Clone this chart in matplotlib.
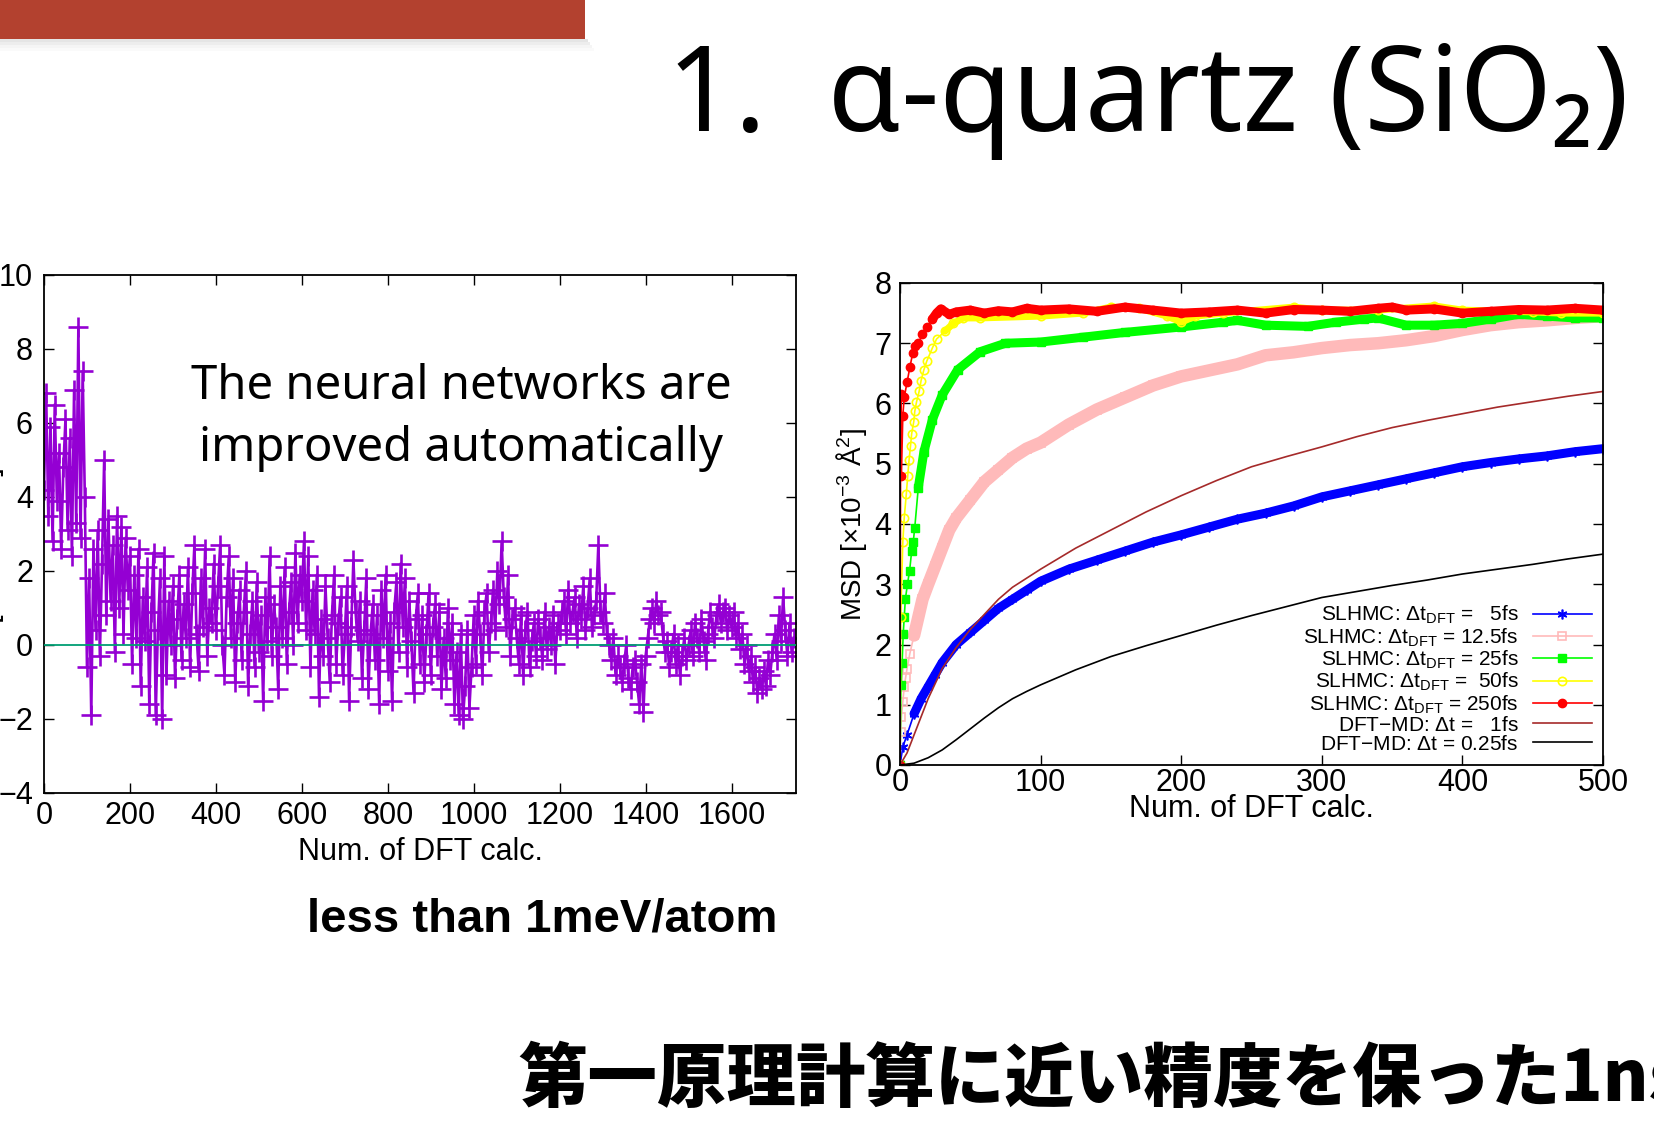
"""
Slide: alpha-quartz SLHMC energy error and MSD comparison.
"""

import numpy as np
import matplotlib
matplotlib.use("Agg")
import matplotlib.pyplot as plt
from matplotlib.lines import Line2D
from matplotlib.patches import Rectangle

W, H = 1654, 1124

# --- left panel: energy error vs number of DFT calcs (sampled every 5 calcs) ---
err_step = 5
err_values = [
    4.2, 6.8, 3.5, 5.9, 2.8, 6.5, 3.9, 5.2, 2.6, 4.8, 6.1, 3.1, 5.6, 2.4, 6.9, 3.3, 8.6, 2.9, 7.4, 4.0,
    -0.6, 1.8, -1.9, 2.6, 0.4, 3.1, -0.3, 2.2, 5.0, 0.8, 3.4, 1.2, 2.7, -0.2, 3.5, 1.0, 3.2, 0.3, 2.9, 1.5,
    2.4, -0.5, 1.9, 0.2, 2.6, -1.1, 1.3, 0.1, 2.1, -1.6, 0.9, 2.5, -1.9, 0.4, 1.8, -2.0, 2.4, -0.8, 1.2, 0.0,
    1.6, -0.9, 0.7, 1.9, -0.4, 1.1, 0.2, 2.1, -0.6, 1.4, 2.7, 0.3, -0.7, 1.8, 0.5, 2.6, -0.3, 1.0, 0.6, 2.2,
    0.4, 1.6, 2.7, 0.0, -0.8, 1.3, 2.4, 0.2, 1.8, -1.0, 0.6, 1.5, -0.4, 0.9, 2.0, -1.1, 0.3, 1.2, -0.6, 1.7,
    -0.2, 0.8, -1.5, 1.3, 0.1, 2.4, -0.3, 1.1, 0.5, -1.2, 1.6, 0.2, 2.1, -0.5, 0.9, 1.7, 0.0, 2.5, 0.6, 1.9,
    1.2, 2.8, 0.4, 2.4, -0.6, 1.5, 0.3, 1.9, -1.4, 0.7, -0.3, 1.6, 0.2, -1.0, 0.8, 1.9, -0.5, 0.6, 1.3, -0.8,
    0.3, 1.6, -1.5, 0.5, 2.3, 0.9, 0.1, 1.2, -0.9, 0.4, 1.8, -1.2, 0.3, 1.1, -0.4, 0.8, -1.6, 1.5, 0.2, 1.9,
    -0.7, 0.6, -1.5, 0.9, 1.7, -0.2, 2.2, 0.5, 1.8, -0.6, 1.2, 0.1, -1.3, 0.7, 1.4, -0.5, 0.8, -1.0, 0.3, 1.4,
    -0.8, 0.5, 1.1, -0.3, 0.9, -1.2, 0.2, -0.9, 1.0, -0.4, 0.6, -1.6, -0.2, -1.9, 0.3, -2.0, -1.1, 0.4, -1.7, -0.6,
    0.8, -0.5, 1.2, 0.3, -0.8, 0.9, 1.4, -0.2, 0.6, 1.5, 0.4, 2.0, 1.1, 2.8, 1.3, 0.5, 1.9, -0.3, 0.7, 1.0,
    0.2, -0.5, 0.8, -0.8, 0.4, 0.9, -0.6, 0.1, 0.6, -0.3, 0.7, 0.2, -0.4, 0.9, -0.1, 0.5, 0.0, 0.8, -0.5, 0.6,
    0.4, 0.9, 1.2, 0.3, 1.5, 0.6, 0.9, 1.3, 0.2, 1.1, 0.7, 1.6, 0.4, 1.0, 1.8, 0.5, 0.8, 1.2, 2.7, 0.9,
    0.6, 1.4, 0.3, 0.0, -0.4, 0.2, -0.8, -0.3, -0.6, -1.0, -0.5, 0.0, -0.9, -1.2, -0.6, -0.4, -1.0, -1.6, -0.5, -1.8,
    -0.3, 0.2, 0.7, 1.0, 0.6, 1.2, 0.8, 0.9, 0.3, -0.2, 0.1, -0.6, -0.2, 0.3, -0.5, 0.0, -0.8, -0.3, 0.2, -0.4,
    0.0, 0.4, -0.3, 0.6, 0.2, -0.2, 0.7, 0.1, -0.4, 0.3, 0.9, 0.5, 0.2, 0.8, 1.1, 0.6, 0.9, 1.0, 0.4, 0.8,
    0.5, 0.9, 0.2, 0.6, -0.1, 0.3, -0.5, 0.0, -0.7, -0.3, -1.0, -0.6, -1.3, -0.9, -1.2, -0.7, -1.1, -0.4, -0.8, -0.2,
    0.3, -0.4, 0.8, 0.1, 1.3, 0.4, -0.3, 0.6, -0.2, 0.2,
]
err_calc = np.arange(len(err_values)) * err_step

# --- right panel: MSD vs number of DFT calcs ---
blue_x = [0, 2, 5, 10, 15, 20, 25, 30, 40, 50, 60, 70, 80, 90, 100, 120, 140, 160, 180, 200,
          220, 240, 260, 280, 300, 320, 340, 360, 380, 400, 420, 440, 460, 480, 500]
blue_y = [0, 0.3, 0.5, 0.85, 1.1, 1.3, 1.5, 1.7, 2.0, 2.2, 2.4, 2.6, 2.75, 2.9, 3.05, 3.25, 3.4, 3.55, 3.7, 3.82,
          3.95, 4.08, 4.18, 4.3, 4.45, 4.55, 4.65, 4.75, 4.85, 4.95, 5.02, 5.08, 5.13, 5.2, 5.25]

pink_x = [0, 0.5, 1, 2, 3, 4, 5, 7, 10, 13, 16, 20, 25, 30, 35, 40, 50, 60, 70, 80, 90, 100,
          120, 140, 160, 180, 200, 220, 240, 260, 280, 300, 320, 340, 360, 380, 400, 420, 440, 460, 480, 500]
pink_y = [0, 0.55, 0.8, 1.05, 1.3, 1.45, 1.6, 1.85, 2.15, 2.45, 2.75, 3.0, 3.3, 3.6, 3.9, 4.1, 4.4, 4.7, 4.9, 5.1, 5.25, 5.35,
          5.65, 5.9, 6.1, 6.3, 6.45, 6.55, 6.65, 6.8, 6.85, 6.92, 6.97, 7.0, 7.05, 7.12, 7.22, 7.3, 7.35, 7.38, 7.42, 7.45]

green_x = [0, 0.7, 1.5, 2.3, 3, 3.8, 5.3, 6.8, 8.3, 9.4, 10.5, 13, 17, 23, 30, 41, 57, 75, 100,
           130, 160, 200, 230, 240, 260, 290, 310, 330, 340, 360, 380, 400, 420, 440, 460, 480, 500]
green_y = [0, 1.32, 1.7, 2.18, 2.45, 2.75, 3.0, 3.22, 3.55, 3.7, 3.94, 4.6, 5.2, 5.73, 6.14, 6.56, 6.86, 7.0, 7.02,
           7.1, 7.18, 7.27, 7.35, 7.38, 7.3, 7.28, 7.35, 7.4, 7.42, 7.3, 7.3, 7.33, 7.4, 7.48, 7.45, 7.42, 7.42]

yellow_x = [0, 0.5, 2, 3, 4.5, 5.5, 6.5, 7.5, 8.3, 9.8, 10.5, 11.7, 13.6, 15, 17, 19, 23, 26, 32, 38, 45, 57,
            100, 130, 150, 170, 190, 200, 210, 230, 280, 300, 340, 380, 400, 450, 470, 500]
yellow_y = [0, 2.45, 3.7, 4.1, 4.5, 4.8, 5.07, 5.3, 5.5, 5.7, 5.87, 6.02, 6.2, 6.38, 6.56, 6.7, 6.92, 7.07, 7.2, 7.33, 7.42, 7.42,
            7.45, 7.5, 7.6, 7.58, 7.45, 7.35, 7.45, 7.5, 7.6, 7.55, 7.55, 7.62, 7.55, 7.52, 7.5, 7.5]

red_x = [0, 0.5, 1, 2, 3, 5, 7, 9, 11, 13, 16, 19, 23, 26, 29, 35, 40, 50, 60, 70, 80, 90, 100,
         120, 140, 160, 180, 200, 220, 240, 260, 280, 300, 320, 340, 350, 360, 380, 400, 420, 440, 460, 480, 500]
red_y = [0, 6.15, 4.8, 5.8, 6.1, 6.35, 6.6, 6.83, 6.95, 7.0, 7.15, 7.27, 7.4, 7.5, 7.57, 7.48, 7.52, 7.55, 7.5, 7.54, 7.52, 7.58, 7.55,
         7.57, 7.53, 7.6, 7.55, 7.5, 7.52, 7.55, 7.5, 7.56, 7.55, 7.53, 7.58, 7.6, 7.55, 7.57, 7.5, 7.53, 7.56, 7.55, 7.58, 7.55]

brown_x = [0, 5, 10, 15, 20, 25, 30, 40, 50, 60, 70, 80, 90, 100, 125, 150, 175, 200, 225, 250,
           275, 300, 325, 350, 375, 400, 425, 450, 475, 500]
brown_y = [0, 0.2, 0.5, 0.8, 1.1, 1.35, 1.6, 1.95, 2.25, 2.5, 2.75, 2.95, 3.1, 3.25, 3.6, 3.9, 4.2, 4.47, 4.72, 4.95,
           5.12, 5.28, 5.45, 5.6, 5.72, 5.83, 5.94, 6.03, 6.12, 6.2]

black_x = [0, 10, 20, 30, 40, 50, 60, 70, 80, 90, 100, 125, 150, 175, 200, 225, 250, 275, 300,
           325, 350, 375, 400, 425, 450, 475, 500]
black_y = [0, 0.03, 0.12, 0.25, 0.42, 0.6, 0.78, 0.95, 1.1, 1.22, 1.33, 1.58, 1.8, 1.98, 2.15, 2.32, 2.48, 2.63, 2.78,
           2.88, 2.98, 3.07, 3.17, 3.25, 3.33, 3.42, 3.5]

legend_labels = [
    r"SLHMC: $\Delta$t$_{\rm DFT}$ =   5fs",
    r"SLHMC: $\Delta$t$_{\rm DFT}$ = 12.5fs",
    r"SLHMC: $\Delta$t$_{\rm DFT}$ = 25fs",
    r"SLHMC: $\Delta$t$_{\rm DFT}$ =  50fs",
    r"SLHMC: $\Delta$t$_{\rm DFT}$ = 250fs",
    r"DFT$-$MD: $\Delta$t =   1fs",
    r"DFT$-$MD: $\Delta$t = 0.25fs",
]

plt.rcParams["font.family"] = ["Liberation Sans", "DejaVu Sans"]
plt.rcParams["mathtext.fontset"] = "custom"
plt.rcParams["mathtext.rm"] = "Liberation Sans"
plt.rcParams["mathtext.it"] = "Liberation Sans:italic"
plt.rcParams["mathtext.bf"] = "Liberation Sans:bold"

fig = plt.figure(figsize=(W / 100, H / 100), dpi=100)


def fx(px):
    return px / W


def fy(py):
    return 1 - py / H


# red header box with a soft shadow
for i, a in enumerate([0.10, 0.07, 0.04, 0.02]):
    fig.add_artist(Rectangle((0, fy(39 + 3 * (i + 1))), fx(588 + 2 * i), 3 / H,
                             transform=fig.transFigure, color="black", alpha=a, lw=0))
fig.add_artist(Rectangle((0, fy(39)), fx(585), 39 / H, transform=fig.transFigure,
                         color="#b3412f", lw=0))

fig.text(fx(1148), fy(100), "1.  α-quartz (SiO₂)", family="Noto Sans", fontsize=85,
         ha="center", va="center", color="black")


def gnuplot_axes(ax):
    ax.tick_params(direction="in", length=7, width=1, top=True, right=True, labelsize=22)
    for s in ax.spines.values():
        s.set_linewidth(1.3)


# left panel
ax1 = fig.add_axes([fx(44), fy(793), fx(796 - 44), (793 - 275) / H])
ax1.plot(err_calc, err_values, color="#9400d3", lw=1.9, marker="+", ms=15, mew=1.9)
ax1.axhline(0, color="#009e73", lw=1.3, zorder=5)
ax1.set_xlim(0, 1750)
ax1.set_ylim(-4, 10)
ax1.set_xticks(range(0, 1601, 200))
ax1.set_yticks(range(-4, 11, 2))
gnuplot_axes(ax1)
ax1.tick_params(axis="x", pad=6)
ax1.tick_params(axis="y", pad=8)
ax1.set_xlabel("Num. of DFT calc.", fontsize=22, labelpad=4)
ax1.text(0.555, 0.725, "The neural networks are\nimproved automatically", transform=ax1.transAxes,
         family="Noto Sans", fontsize=34, ha="center", va="center", linespacing=1.4)
fig.text(fx(4), fy(570), "ΔE [meV/atom]", rotation=90, ha="right", va="center", fontsize=22)

# right panel
ax2 = fig.add_axes([fx(900), fy(765), fx(1603 - 900), (765 - 283) / H])
series = [
    (blue_x, blue_y, dict(color="#0000ff", marker=(6, 2, 0), ms=7, mfc="none", mew=1.2), 6.5, 8),
    (pink_x, pink_y, dict(color="#ffbaba", marker="s", ms=6, mfc="none", mew=1.2), 9, 10),
    (green_x, green_y, dict(color="#00ff00", marker="s", ms=6, mew=1), 6.5, 12),
    (yellow_x, yellow_y, dict(color="#ffff00", marker="o", ms=6, mfc="none", mew=1.2), 5, 30),
    (red_x, red_y, dict(color="#ff0000", marker="o", ms=6, mew=1), 6.5, 22),
]
for xs, ys, style, band, start in series:
    xs = np.asarray(xs, dtype=float)
    ys = np.asarray(ys, dtype=float)
    ax2.plot(xs, ys, lw=1.2, **style)
    mask = xs >= start
    ax2.plot(xs[mask], ys[mask], color=style["color"], lw=band, solid_capstyle="round")
ax2.plot(brown_x, brown_y, color="#a52a2a", lw=1.2)
ax2.plot(black_x, black_y, color="black", lw=1.2)
ax2.set_xlim(0, 500)
ax2.set_ylim(0, 8)
ax2.set_xticks(range(0, 501, 100))
ax2.set_yticks(range(0, 9))
gnuplot_axes(ax2)
ax2.tick_params(axis="x", pad=2)
ax2.tick_params(axis="y", pad=6)
ax2.set_xlabel("Num. of DFT calc.", fontsize=22, labelpad=-3)
ax2.set_ylabel(r"MSD [$\times$10$^{-3}$ $\rm\AA^2$]", fontsize=20, labelpad=4)

handles = [
    Line2D([], [], color="#0000ff", lw=1.2, marker=(6, 2, 0), ms=7, mew=1.2),
    Line2D([], [], color="#ffbaba", lw=1.2, marker="s", ms=6, mfc="none", mew=1.2),
    Line2D([], [], color="#00ff00", lw=1.2, marker="s", ms=6),
    Line2D([], [], color="#ffff00", lw=1.2, marker="o", ms=6, mfc="none", mew=1.2),
    Line2D([], [], color="#ff0000", lw=1.2, marker="o", ms=6),
    Line2D([], [], color="#a52a2a", lw=1.2),
    Line2D([], [], color="black", lw=1.2),
]
ax2.legend(handles, legend_labels, loc="lower right", markerfirst=False, frameon=False,
           fontsize=15, handlelength=2.8, handletextpad=0.7, labelspacing=0.0,
           borderaxespad=0.35, borderpad=0.2)

fig.text(fx(542), fy(920), "less than 1meV/atom", fontsize=34, fontweight="bold",
         ha="center", va="center")
fig.text(fx(518), fy(1080), "第一原理計算に近い精度を保った1ns",
         family=["Noto Sans CJK JP", "DejaVu Sans"], fontsize=50, fontweight="heavy",
         ha="left", va="center")

fig.savefig("out.png", dpi=100)
